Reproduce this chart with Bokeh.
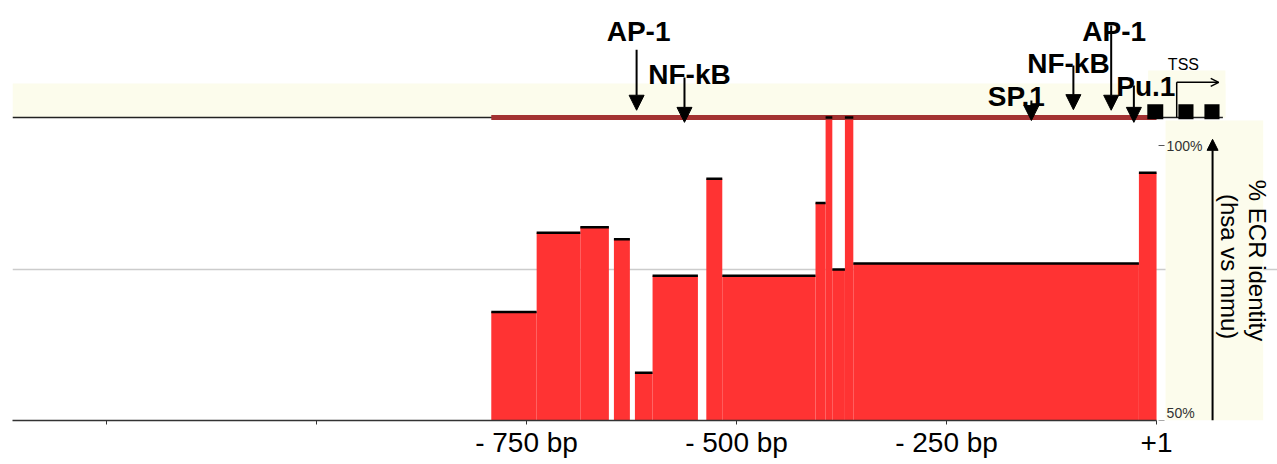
import math
from bokeh.plotting import figure
from bokeh.models import (Range1d, FixedTicker, ColumnDataSource, Arrow, NormalHead,
                          OpenHead, Label, BoxAnnotation)
from bokeh.core.properties import value
from bokeh.embed import file_html
from bokeh.resources import INLINE

# ---------------- data ----------------
BAR_START = [-792, -738, -686, -646, -621, -600, -536, -517, -406, -394, -386, -371, -361, -21]
BAR_END   = [-738, -686, -652, -627, -600, -546, -517, -406, -394, -386, -371, -361, -21, 0]
IDENTITY  = [67.9, 81.0, 81.9, 79.9, 57.9, 73.9, 89.9, 73.9, 85.9, 100.0, 74.9, 100.0, 75.9, 90.9]

TF_NAMES = ["AP-1", "NF-kB", "SP.1", "NF-kB", "AP-1", "Pu.1"]
TF_SITES = [-619, -562, -149, -99, -54, -27]

EXON_START = [-11, 26, 57]
EXON_END   = [8, 44, 75]
TSS_POS = 24

AXIS_TICKS = [-1250, -1000, -750, -500, -250, 0]
AXIS_LABELS = ["", "", "- 750 bp", "- 500 bp", "- 250 bp", "+1"]

INSET_TICKS = [100, 50]
INSET_LABELS = ["100%", "50%"]

# ---------------- layout / style ----------------
X_MIN, X_MAX = -1362, 144
Y_MIN, Y_MAX = 50, 117.66
TRACK_Y = 100
BAND_TOP = 105.6
TSS_BOX_TOP = 107.75
BAND_END = 82
LINE_END = 79

TF_TIP = [101.2, 99.2, 99.5, 101.3, 101.2, 99.2]
TF_TAIL = [111.2, 106.6, 102.8, 108.6, 115.2, 105.3]
TF_TEXT_Y = [114.2, 107.1, 103.5, 108.9, 114.2, 105.1]
TF_DX = [2, 5, -15, -5, 3, 12]

INSET_SCALE = 275.0 / 303.0
def inset_y(v):
    return 50 + (v - 50) * INSET_SCALE

BAR_RED = "#ff3333"
TRACK_RED = "#a33232"
CREAM = "#fcfcec"
FONT_NAME = "Liberation Sans"
FONT = value(FONT_NAME)

p = figure(width=1277, height=462,
           x_range=Range1d(X_MIN, X_MAX), y_range=Range1d(Y_MIN, Y_MAX),
           output_backend="svg", toolbar_location=None, y_axis_location=None,
           min_border_left=12, min_border_right=0, min_border_top=10, min_border_bottom=42)
p.outline_line_color = None
p.background_fill_color = "white"
p.border_fill_color = "white"

# grid
p.xgrid.visible = False
p.ygrid.ticker = FixedTicker(ticks=[75])
p.ygrid.grid_line_color = "#cccccc"
p.ygrid.grid_line_width = 1.5

# bottom axis
ax = p.xaxis[0]
ax.ticker = FixedTicker(ticks=AXIS_TICKS)
ax.major_label_overrides = {t: lab for t, lab in zip(AXIS_TICKS, AXIS_LABELS)}
ax.bounds = (X_MIN, 0)
ax.axis_line_color = "#333333"
ax.axis_line_width = 1.5
ax.major_tick_line_color = "#333333"
ax.major_tick_out = 4
ax.major_tick_in = 0
ax.minor_tick_line_color = None
ax.major_label_text_font = FONT_NAME
ax.major_label_text_font_size = "28px"
ax.major_label_text_color = "black"
ax.major_label_standoff = 2

# right inset panel (cream)
inset_box = BoxAnnotation(left=10.7, right=127, top=99.5, bottom=Y_MIN,
                          fill_color=CREAM, fill_alpha=1.0, line_color=None, level="underlay")
p.add_layout(inset_box)

# top track band
p.quad(left=[X_MIN], right=[BAND_END], bottom=[TRACK_Y], top=[BAND_TOP],
       fill_color=CREAM, line_color=None)
p.quad(left=[EXON_START[0] + 1], right=[BAND_END], bottom=[TRACK_Y], top=[TSS_BOX_TOP],
       fill_color=CREAM, line_color=None)
# thin track line
p.segment(x0=[X_MIN], x1=[LINE_END], y0=[TRACK_Y], y1=[TRACK_Y], line_color="#222222", line_width=1.5)

# bars
bars = ColumnDataSource(dict(left=BAR_START, right=BAR_END, top=IDENTITY,
                             bottom=[50] * len(IDENTITY)))
p.quad(left="left", right="right", top="top", bottom="bottom", source=bars,
       fill_color=BAR_RED, line_color=None)

# conserved region on track
p.segment(x0=[BAR_START[0]], x1=[BAR_END[-1]], y0=[TRACK_Y], y1=[TRACK_Y],
          line_color=TRACK_RED, line_width=5)

# bar top edges
p.segment(x0="left", x1="right", y0="top", y1="top", source=bars,
          line_color="black", line_width=2.5)

# exons
p.quad(left=EXON_START, right=EXON_END, bottom=[99.7] * len(EXON_START),
       top=[102.2] * len(EXON_START), fill_color="black", line_color=None)

# TSS
p.segment(x0=[TSS_POS], x1=[TSS_POS], y0=[TRACK_Y], y1=[105.8], line_color="black", line_width=1.5)
p.add_layout(Arrow(end=OpenHead(size=8, line_width=1.5, line_color="black"),
                   x_start=TSS_POS, y_start=105.8, x_end=EXON_END[-1] - 1, y_end=105.8,
                   line_width=1.5, line_color="black"))
p.text(x=[TSS_POS + 8], y=[108.7], text=["TSS"], text_font=FONT, text_font_size="16px",
       text_align="center", text_baseline="alphabetic", text_color="black")

# transcription factor sites
tf = ColumnDataSource(dict(x=TF_SITES, name=TF_NAMES, tip=TF_TIP, tail=TF_TAIL,
                           ty=TF_TEXT_Y, dx=TF_DX))
p.text(x="x", y="ty", text="name", x_offset="dx", source=tf, text_font=FONT,
       text_font_style="bold", text_font_size="28px", text_align="center",
       text_baseline="alphabetic", text_color="black")
p.add_layout(Arrow(end=NormalHead(size=15, fill_color="black", line_color="black"),
                   source=tf, x_start="x", y_start="tail", x_end="x", y_end="tip",
                   line_width=2, line_color="black"))

# inset axis ticks and labels
for v, lab in zip(INSET_TICKS, INSET_LABELS):
    yy = inset_y(v)
    base = "middle" if v > 50 else "bottom"
    p.segment(x0=[2.4], x1=[9.5], y0=[yy], y1=[yy], line_color="#555555", line_width=1.2)
    p.add_layout(Label(x=12, y=yy, text=lab, text_font=FONT_NAME,
                       text_font_size="14px", text_align="left", text_baseline=base,
                       text_color="#333333"))

p.add_layout(Arrow(end=NormalHead(size=11, fill_color="black", line_color="black"),
                   x_start=66.7, y_start=Y_MIN, x_end=66.7, y_end=96.4,
                   line_width=2, line_color="black"))
p.add_layout(Label(x=120.2, y=76.4, text="% ECR identity", angle=-math.pi / 2,
                   text_font=FONT_NAME, text_font_size="24px", text_align="center",
                   text_baseline="middle", text_color="black"))
p.add_layout(Label(x=86.9, y=75.4, text="(hsa vs mmu)", angle=-math.pi / 2,
                   text_font=FONT_NAME, text_font_size="24px", text_align="center",
                   text_baseline="middle", text_color="black"))

open("out.html", "w").write(file_html(p, INLINE))
